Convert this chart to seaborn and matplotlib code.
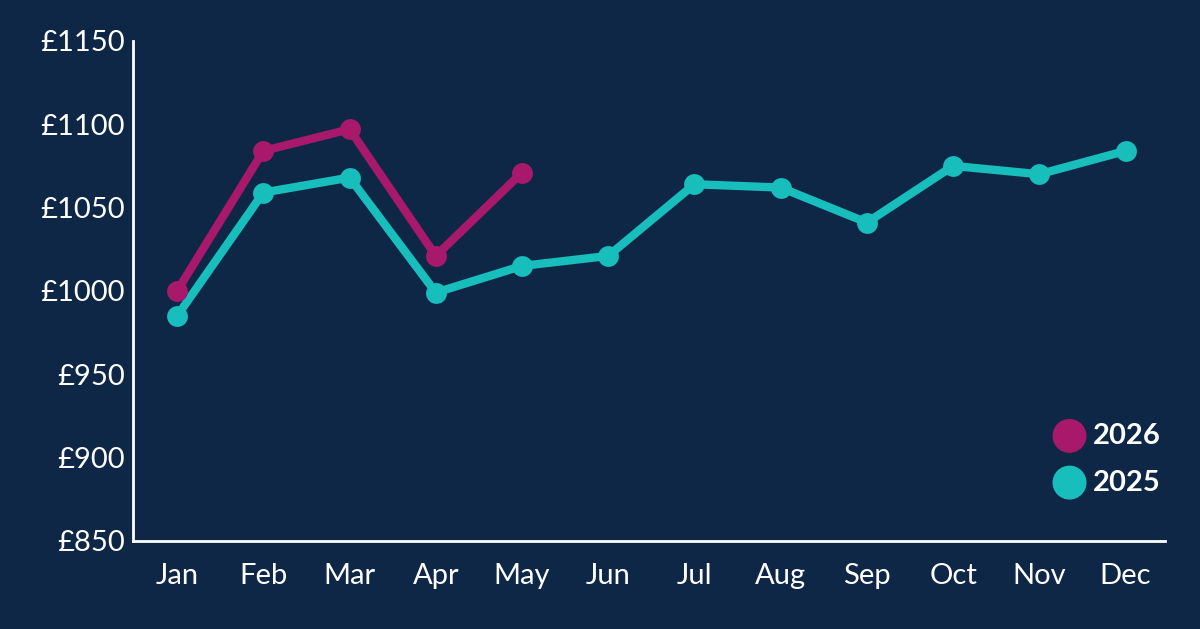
import pandas as pd
import numpy as np
import matplotlib.pyplot as plt
import seaborn as sns

months = ["Jan","Feb","Mar","Apr","May","Jun","Jul","Aug","Sep","Oct","Nov","Dec"]
vals_2025 = [985, 1059, 1068, 999, 1015, 1021, 1064, 1062, 1041, 1075, 1070, 1084]
vals_2026 = [1000, 1084, 1097, 1021, 1071]

bg = "#0e2747"
teal = "#17bebb"
magenta = "#a8196b"

df = pd.concat([
    pd.DataFrame({"x": range(len(vals_2025)), "price": vals_2025, "year": "2025"}),
    pd.DataFrame({"x": range(len(vals_2026)), "price": vals_2026, "year": "2026"}),
])

sns.set_style("dark")
plt.rcParams["font.family"] = ["Lato", "DejaVu Sans"]
fig = plt.figure(figsize=(12, 6.29), dpi=100, facecolor=bg)
ax = fig.add_axes([0.111, 0.14, 0.86, 0.795], facecolor=bg)

palette = {"2025": teal, "2026": magenta}
sns.lineplot(data=df, x="x", y="price", hue="year", hue_order=["2025", "2026"],
             palette=palette, marker="o", markersize=15, markeredgewidth=0,
             linewidth=6, ax=ax, legend=False)

ax.set_xlim(-0.51, 11.46)
ax.set_ylim(850, 1150)
ax.set_xticks(range(12))
ax.set_xticklabels(months)
ax.set_yticks(range(850, 1151, 50))
ax.set_yticklabels([f"£{v}" for v in range(850, 1151, 50)])
ax.set_yticks(range(875, 1150, 50), minor=True)
ax.tick_params(axis="y", which="both", direction="in", length=26, width=2, color="white",
               labelcolor="white", labelsize=21, pad=6)
ax.tick_params(axis="x", direction="out", length=10, width=2, color="white",
               labelcolor="white", labelsize=21, pad=6)
ax.grid(False)
ax.set_xlabel("")
ax.set_ylabel("")
for s in ["top", "right"]:
    ax.spines[s].set_visible(False)
for s in ["left", "bottom"]:
    ax.spines[s].set_color("white")
    ax.spines[s].set_linewidth(2)

# legend
for yy, yr, c in [(0.82, "2026", magenta), (0.74, "2025", teal)]:
    fig.patches.append(plt.Circle((0.892, 0.3 + (yy - 0.82) * 1.0 + 0.0), 0.0, color=c))
ax.scatter([10.35, 10.35], [913, 885], s=550, color=[magenta, teal], clip_on=False, zorder=5)
ax.text(10.62, 913, "2026", color="white", fontsize=21, va="center", fontweight="bold")
ax.text(10.62, 885, "2025", color="white", fontsize=21, va="center", fontweight="bold")

fig.savefig("out.png", dpi=100, facecolor=bg)
